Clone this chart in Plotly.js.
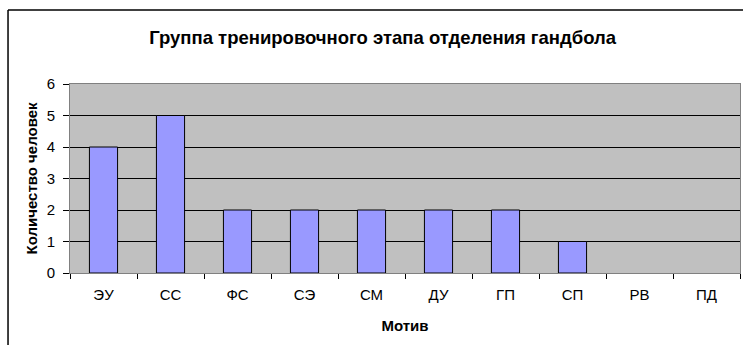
<!DOCTYPE html>
<html>
<head>
<meta charset="utf-8">
<script src="https://cdn.plot.ly/plotly-3.0.1.min.js"></script>
<style>
  html, body { margin: 0; padding: 0; background: #fff; }
  #chart { width: 743px; height: 345px; }
</style>
</head>
<body>
<div id="chart"></div>
<script>
// Motives and the number of athletes for each one
const motives = ["ЭУ", "СС", "ФС", "СЭ", "СМ", "ДУ", "ГП", "СП", "РВ", "ПД"];
const counts = [4, 5, 2, 2, 2, 2, 2, 1, 0, 0];
const yTicks = [0, 1, 2, 3, 4, 5, 6];

const font = "Liberation Sans, Arial, sans-serif";

const trace = {
  type: "bar",
  x: motives,
  y: counts,
  marker: {
    color: "#9999FF",
    // empty categories get no outline
    line: { color: "#000000", width: counts.map(v => (v > 0 ? 1 : 0)) }
  },
  hoverinfo: "x+y"
};

const layout = {
  width: 743,
  height: 345,
  margin: { l: 70, r: 3, t: 84, b: 72 },
  paper_bgcolor: "#ffffff",
  plot_bgcolor: "#C0C0C0",
  bargap: 0.58,
  showlegend: false,
  font: { family: font, color: "#000", size: 15 },
  title: {
    text: "<b>Группа тренировочного этапа отделения гандбола</b>",
    font: { family: font, size: 18.5, color: "#000" },
    x: 0.515, xanchor: "center",
    y: 0.89, yanchor: "middle"
  },
  xaxis: {
    type: "category",
    tickson: "boundaries",
    ticks: "outside",
    ticklen: 5,
    tickcolor: "#000",
    tickfont: { size: 15 },
    ticklabelstandoff: 8,
    showgrid: false,
    showline: true,
    linecolor: "#808080",
    linewidth: 1,
    mirror: true,
    title: { text: "<b>Мотив</b>", font: { size: 15 }, standoff: 18 }
  },
  yaxis: {
    range: [0, 6],
    tickvals: yTicks,
    ticks: "outside",
    ticklen: 6,
    tickcolor: "#000",
    tickfont: { size: 15 },
    ticklabelstandoff: 5,
    showgrid: true,
    gridcolor: "#000000",
    gridwidth: 1,
    zeroline: false,
    showline: true,
    linecolor: "#808080",
    linewidth: 1,
    mirror: true,
    title: { text: "<b>Количество человек</b>", font: { size: 15 }, standoff: 5 }
  },
  shapes: [
    // chart frame (left and top edges)
    { type: "line", xref: "paper", yref: "paper", x0: -0.0925, x1: -0.0925, y0: -0.5, y1: 1.3915,
      line: { color: "#000", width: 1.5 } },
    { type: "line", xref: "paper", yref: "paper", x0: -0.0925, x1: 1.2, y0: 1.3915, y1: 1.3915,
      line: { color: "#000", width: 1.5 } }
  ]
};

Plotly.newPlot("chart", [trace], layout, { displayModeBar: false, staticPlot: true });
</script>
</body>
</html>
